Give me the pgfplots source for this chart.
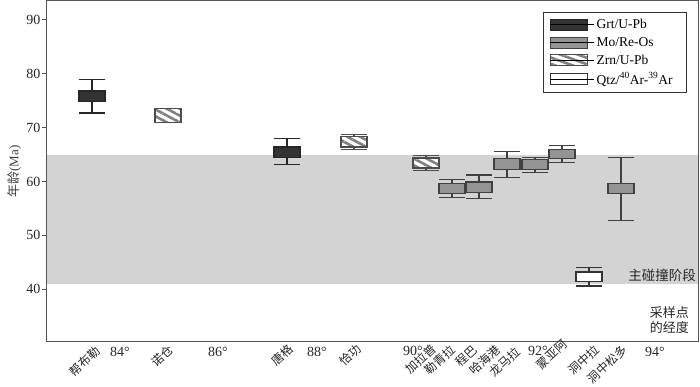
\documentclass[border=0pt]{standalone}
\usepackage{fontspec}
\setmainfont{Liberation Serif}
\newfontfamily\cjk{Noto Sans CJK SC}
\usepackage{pgfplots}
\pgfplotsset{compat=1.18}
\usepgfplotslibrary{statistics}
\usetikzlibrary{patterns.meta}

\definecolor{band}{HTML}{D3D3D3}
\definecolor{frame}{HTML}{555555}

\pgfplotsset{
  grt/.style={draw=black!85, fill=black!80, line width=1.1pt},
  mo/.style={draw=black!75, fill=black!42, line width=1.1pt},
  qtz/.style={draw=black!80, fill=white, line width=1.1pt},
  zrn/.style={draw=black!70, line width=1.1pt,
    boxplot/every box/.style={fill=white,
      postaction={pattern={Lines[angle=-28,distance=6pt,line width=2.6pt]}, pattern color=black!50}}},
}
\tikzset{
  rot/.style={rotate=43, anchor=east, inner sep=0pt, text=black!85,
    font=\cjk\fontsize{12}{12}\selectfont},
  lon/.style={text=black!85, inner sep=0pt, font=\fontsize{14}{14}\selectfont},
}

\begin{document}
\begin{tikzpicture}
\begin{axis}[
  scale only axis, width=651pt, height=341pt,
  xmin=47, xmax=698, ymin=30.2, ymax=93.5,
  axis line style={frame, line width=1pt},
  xtick=\empty,
  ytick={40,50,...,90},
  ytick pos=left,
  tick align=outside, major tick length=5pt,
  tick style={frame, line width=0.9pt},
  yticklabel style={font=\fontsize{14}{14}\selectfont, text=black!85, inner xsep=1.5pt},
  /pgf/number format/assume math mode=true,
  ylabel={{\cjk 年龄}(Ma)},
  ylabel style={font=\fontsize{13}{13}\selectfont, text=black!75},
  boxplot/draw direction=y,
  boxplot/every median/.style={draw=none},
  clip=false,
  legend style={at={(axis cs:687,91.46)}, anchor=north east, draw=black!80,
    line width=0.9pt, font=\fontsize{13.5}{13.5}\selectfont,
    row sep=3pt, inner xsep=6pt, inner ysep=5pt},
  legend cell align=left,
]
% main collision stage
\addplot[fill=band, draw=none, forget plot] coordinates {(47,41)(698,41)(698,65)(47,65)} -- cycle;

% boxes: lower whisker, lower quartile, upper quartile, upper whisker
\addplot[grt, forget plot, boxplot prepared={draw position=92, lower whisker=72.7, lower quartile=74.8, median=75.8, upper quartile=76.8, upper whisker=78.85, box extend=26, whisker extend=26}] coordinates {};
\addplot[zrn, forget plot, boxplot prepared={draw position=168, lower whisker=70.9, lower quartile=71.0, median=72.2, upper quartile=73.5, upper whisker=73.6, box extend=26, whisker extend=26}] coordinates {};
\addplot[grt, forget plot, boxplot prepared={draw position=287, lower whisker=63.2, lower quartile=64.5, median=65.4, upper quartile=66.4, upper whisker=67.9, box extend=26, whisker extend=26}] coordinates {};
\addplot[zrn, forget plot, boxplot prepared={draw position=354, lower whisker=66.0, lower quartile=66.4, median=67.4, upper quartile=68.4, upper whisker=68.8, box extend=26, whisker extend=26}] coordinates {};
\addplot[zrn, forget plot, boxplot prepared={draw position=426, lower whisker=62.1, lower quartile=62.5, median=63.4, upper quartile=64.35, upper whisker=64.9, box extend=26, whisker extend=26}] coordinates {};
\addplot[mo, forget plot, boxplot prepared={draw position=452, lower whisker=57.1, lower quartile=57.8, median=58.8, upper quartile=59.7, upper whisker=60.4, box extend=26, whisker extend=26}] coordinates {};
\addplot[mo, forget plot, boxplot prepared={draw position=479, lower whisker=56.9, lower quartile=58.0, median=59.0, upper quartile=59.9, upper whisker=61.2, box extend=26, whisker extend=26}] coordinates {};
\addplot[mo, forget plot, boxplot prepared={draw position=507, lower whisker=60.8, lower quartile=62.3, median=63.2, upper quartile=64.2, upper whisker=65.5, box extend=26, whisker extend=26}] coordinates {};
\addplot[mo, forget plot, boxplot prepared={draw position=535, lower whisker=61.7, lower quartile=62.3, median=63.2, upper quartile=64.0, upper whisker=64.5, box extend=26, whisker extend=26}] coordinates {};
\addplot[mo, forget plot, boxplot prepared={draw position=562, lower whisker=63.6, lower quartile=64.2, median=65.1, upper quartile=66.0, upper whisker=66.6, box extend=26, whisker extend=26}] coordinates {};
\addplot[qtz, forget plot, boxplot prepared={draw position=589, lower whisker=40.6, lower quartile=41.5, median=42.3, upper quartile=43.2, upper whisker=44.1, box extend=26, whisker extend=26}] coordinates {};
\addplot[mo, forget plot, boxplot prepared={draw position=621, lower whisker=52.8, lower quartile=57.8, median=58.8, upper quartile=59.7, upper whisker=64.5, box extend=26, whisker extend=26}] coordinates {};

% legend
\addlegendimage{legend image code/.code={\draw[draw=black!85, fill=black!80, line width=1pt] (0pt,-5.5pt) rectangle (37pt,5.5pt); \path (0pt,0pt) -- (44pt,0pt);}}
\addlegendentry{Grt/U-Pb}
\addlegendimage{legend image code/.code={\draw[draw=black!75, fill=black!42, line width=1pt] (0pt,-5.5pt) rectangle (37pt,5.5pt); \path (0pt,0pt) -- (44pt,0pt);}}
\addlegendentry{Mo/Re-Os}
\addlegendimage{legend image code/.code={\fill[white] (0pt,-5.5pt) rectangle (37pt,5.5pt);
  \fill[pattern={Lines[angle=-20,distance=6pt,line width=2.6pt]}, pattern color=black!50] (0pt,-5.5pt) rectangle (37pt,5.5pt);
  \draw[black!70, line width=1pt] (0pt,-5.5pt) rectangle (37pt,5.5pt); \path (0pt,0pt) -- (44pt,0pt);}}
\addlegendentry{Zrn/U-Pb}
\addlegendimage{legend image code/.code={\draw[draw=black!80, fill=white, line width=1pt] (0pt,-5.5pt) rectangle (37pt,5.5pt); \path (0pt,0pt) -- (44pt,0pt);}}
\addlegendentry{Qtz/\textsuperscript{40}Ar-\textsuperscript{39}Ar\hspace*{6pt}}

% notes
\node[anchor=east, inner sep=0pt, text=black!85, font=\cjk\fontsize{13.5}{13.5}\selectfont] at (axis cs:696,42.65) {主碰撞阶段};
\node[anchor=east, inner sep=0pt, align=right, text=black!85, font=\cjk\fontsize{13}{15}\selectfont] at (axis cs:689,34.3) {采样点\\的经度};

% longitudes
\node[lon] at (axis cs:120,28.35) {84°};
\node[lon] at (axis cs:218,28.35) {86°};
\node[lon] at (axis cs:317,28.35) {88°};
\node[lon] at (axis cs:413,28.5) {90°};
\node[lon] at (axis cs:538,28.5) {92°};
\node[lon] at (axis cs:655,28.35) {94°};

% sampling sites (right end of each name)
\node[rot] at (axis cs:98,28.9) {帮布勒};
\node[rot] at (axis cs:171,29.1) {诺仓};
\node[rot] at (axis cs:291,29.3) {唐格};
\node[rot] at (axis cs:359,29.3) {恰功};
\node[rot] at (axis cs:434,29.3) {加拉普};
\node[rot] at (axis cs:453,29.1) {勒青拉};
\node[rot] at (axis cs:475,29.1) {程巴};
\node[rot] at (axis cs:498,29.1) {哈海港};
\node[rot] at (axis cs:518,28.75) {龙马拉};
\node[rot] at (axis cs:565,30.2) {蒙亚阿};
\node[rot] at (axis cs:597,29.1) {洞中拉};
\node[rot] at (axis cs:625,29.1) {洞中松多};
\end{axis}
\pgfresetboundingbox
\path[use as bounding box] (-47pt,-45pt) rectangle (653pt,342pt);
\end{tikzpicture}
\end{document}
